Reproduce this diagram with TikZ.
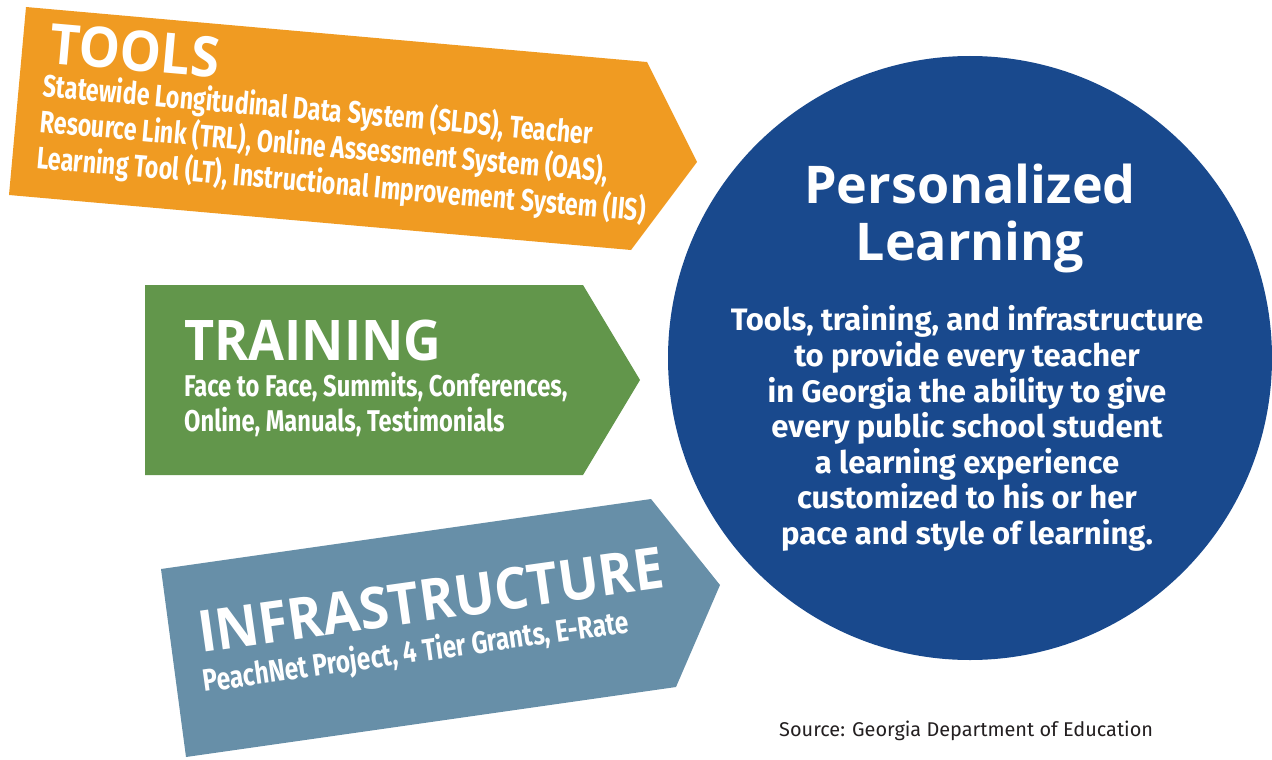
\documentclass[tikz,border=0pt]{standalone}
\usepackage{fontspec}
\setmainfont{Fira Sans}
\newfontfamily\headfont[FakeStretch=0.93]{Open Sans}
\newfontfamily\titlefont{Open Sans}
\newfontfamily\condfont[FakeStretch=0.79]{Fira Sans}
\newfontfamily\tightfont[FakeStretch=0.75]{Fira Sans}
\definecolor{toolsorange}{RGB}{240,155,34}
\definecolor{traingreen}{RGB}{98,150,75}
\definecolor{infrablue}{RGB}{103,143,168}
\definecolor{plnavy}{RGB}{25,73,141}
\definecolor{srcgray}{RGB}{35,31,32}
\begin{document}
\begin{tikzpicture}[x=1pt, y=-1pt,
  every node/.style = {inner sep=0pt, text=white},
  heading/.style = {anchor=base west,
    font=\headfont\bfseries\fontsize{56}{60}\selectfont},
  itemlist/.style = {anchor=base west, align=left,
    font=\condfont\bfseries\fontsize{30}{34.5}\selectfont}]
  \useasboundingbox (0,0) rectangle (1272,760);
  % the three arrows
  \fill[toolsorange] (26,7) -- (647,62) -- (697,162) -- (631,250) -- (9,195) -- cycle;
  \fill[traingreen] (145,285) -- (583,285) -- (640,380) -- (583,475) -- (145,475) -- cycle;
  \fill[infrablue] (161,569) -- (651,499) -- (720,585) -- (676,687) -- (186,757) -- cycle;
  % the circle
  \fill[plnavy] (970,358) circle (302pt);
  % texts, multi-line nodes sit on their last baseline
  \node[heading, rotate=-5] (toolshead) at (48,63) {TOOLS};
  \node[itemlist, rotate=-5, font=\tightfont\bfseries\fontsize{31}{36}\selectfont]
    (toolslist) at (36,168)
    {Statewide Longitudinal Data System (SLDS), Teacher\\
     Resource Link (TRL), Online Assessment System (OAS),\\
     Learning Tool (LT), Instructional Improvement System (IIS)};
  \node[heading] (trainhead) at (184,360) {TRAINING};
  \node[itemlist] (trainlist) at (184,431)
    {Face to Face, Summits, Conferences,\\
     Online, Manuals, Testimonials};
  \node[heading, rotate=8, font=\headfont\bfseries\fontsize{57.5}{60}\selectfont]
    (infrahead) at (201,653) {INFRASTRUCTURE};
  \node[itemlist, rotate=8, font=\condfont\bfseries\fontsize{31}{36}\selectfont]
    (infralist) at (204,692) {PeachNet Project, 4 Tier Grants, E-Rate};
  \node[anchor=base, align=center,
    font=\titlefont\bfseries\fontsize{52}{57}\selectfont]
    (pltitle) at (970,260) {Personalized\\Learning};
  \node[anchor=base, align=center,
    font=\bfseries\fontsize{31}{35.6}\selectfont]
    (pltext) at (967,544.5)
    {Tools, training, and infrastructure\\
     to provide every teacher\\
     in Georgia the ability to give\\
     every public school student\\
     a learning experience\\
     customized to his or her\\
     pace and style of learning.};
  \node[anchor=base west, text=srcgray, font=\fontsize{19.9}{22}\selectfont]
    (source) at (779,736) {Source: Georgia Department of Education};
\end{tikzpicture}
\end{document}
